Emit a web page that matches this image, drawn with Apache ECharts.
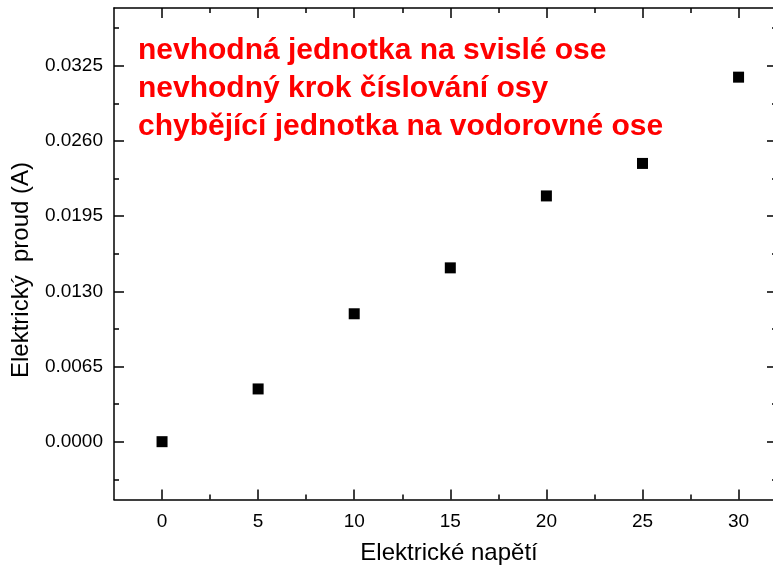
<!DOCTYPE html>
<html>
<head>
<meta charset="utf-8">
<script src="https://cdn.jsdelivr.net/npm/echarts@6/dist/echarts.min.js"></script>
<style>html,body{margin:0;padding:0;background:#fff}#c{width:773px;height:568px}</style>
</head>
<body>
<div id="c"></div>
<script>
// Data
const voltage = [0, 5, 10, 15, 20, 25, 30];
const current = [0.0000, 0.00456, 0.01106, 0.01503, 0.02125, 0.02406, 0.03152];
const xMajorTicks = [0, 5, 10, 15, 20, 25, 30];
const xMinorTicks = [2.5, 7.5, 12.5, 17.5, 22.5, 27.5];
const yMajorTicks = [0, 0.0065, 0.0130, 0.0195, 0.0260, 0.0325];
const yMinorTicks = [-0.00325, 0.00325, 0.00975, 0.01625, 0.02275, 0.02925, 0.03575];
const xTitle = 'Elektrické napětí';
const yTitle = 'Elektrický  proud (A)';
const notes = ['nevhodná jednotka na svislé ose', 'nevhodný krok číslování osy', 'chybějící jednotka na vodorovné ose'];

const FONT = "'Liberation Sans', Arial, sans-serif";
const X_MIN = -2.5, X_MAX = 32, Y_MIN = -0.005, Y_MAX = 0.0375;
const lineStyle = { color: '#000', width: 1.5 };

function xAxisDef(pos, ticks, len, main) {
  return {
    type: 'value', position: pos, min: X_MIN, max: X_MAX,
    splitLine: { show: false },
    axisLine: { show: main, onZero: false, lineStyle },
    axisTick: { show: true, inside: true, length: len, lineStyle, customValues: ticks },
    axisLabel: (main && pos === 'bottom') ? {
      show: true, customValues: ticks, margin: 13, color: '#000', fontSize: 19, fontFamily: FONT,
      formatter: v => String(Math.round(v))
    } : { show: false }
  };
}
function yAxisDef(pos, ticks, len, main) {
  return {
    type: 'value', position: pos, min: Y_MIN, max: Y_MAX,
    splitLine: { show: false },
    axisLine: { show: main, onZero: false, lineStyle },
    axisTick: { show: true, inside: true, length: len, lineStyle, customValues: ticks },
    axisLabel: (main && pos === 'left') ? {
      show: true, customValues: ticks, margin: 11, color: '#000', fontSize: 19, fontFamily: FONT,
      formatter: v => v.toFixed(4)
    } : { show: false }
  };
}

const chart = echarts.init(document.getElementById('c'), null, { renderer: 'canvas' });
chart.setOption({
  animation: false,
  backgroundColor: '#fff',
  grid: { left: 114, top: 8, width: 663, height: 491.5, containLabel: false, outerBoundsMode: 'none' },
  xAxis: [
    xAxisDef('bottom', xMajorTicks, 10, true),
    xAxisDef('bottom', xMinorTicks, 5, false),
    xAxisDef('top', xMajorTicks, 10, true),
    xAxisDef('top', xMinorTicks, 5, false)
  ],
  yAxis: [
    yAxisDef('left', yMajorTicks, 10, true),
    yAxisDef('left', yMinorTicks, 5, false),
    yAxisDef('right', yMajorTicks, 10, true),
    yAxisDef('right', yMinorTicks, 5, false)
  ],
  series: [{
    type: 'scatter', xAxisIndex: 0, yAxisIndex: 0,
    symbol: 'rect', symbolSize: 11,
    itemStyle: { color: '#000', opacity: 1 },
    data: voltage.map((v, i) => [v, current[i]])
  }],
  graphic: notes.map((t, i) => ({
    type: 'text', left: 138, top: 36 + i * 38, z: 10,
    style: { text: t, fill: '#ff0000', font: "bold 30px 'Liberation Sans', Arial, sans-serif" }
  })).concat([
    { type: 'text', x: 449, y: 553, z: 10,
      style: { text: xTitle, fill: '#000', font: "24px 'Liberation Sans', Arial, sans-serif", align: 'center', verticalAlign: 'middle' } },
    { type: 'text', x: 21, y: 270, rotation: Math.PI / 2, z: 10,
      style: { text: yTitle, fill: '#000', font: "24px 'Liberation Sans', Arial, sans-serif", align: 'center', verticalAlign: 'middle' } }
  ])
});
</script>
</body>
</html>
